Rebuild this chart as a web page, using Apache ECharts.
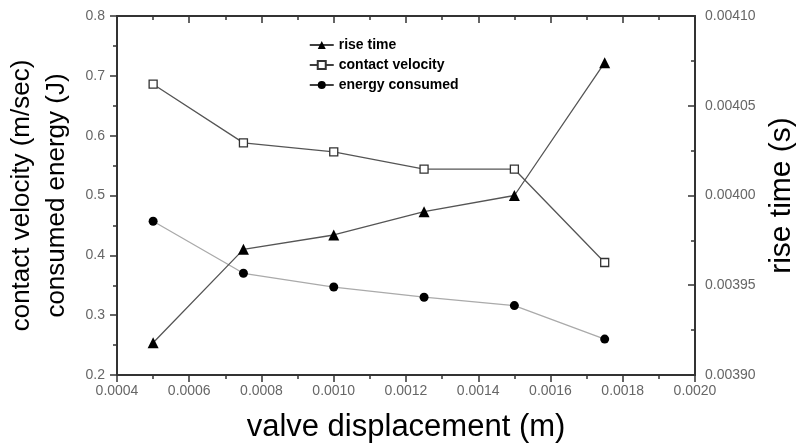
<!DOCTYPE html>
<html>
<head>
<meta charset="utf-8">
<script src="https://cdn.jsdelivr.net/npm/echarts@6/dist/echarts.min.js"></script>
<style>
  html, body { margin: 0; padding: 0; background: #fff; }
  #myChart { width: 797px; height: 443px; }
</style>
</head>
<body>
<div id="myChart"></div>
<script>
// valve displacement (m)
const displacement = [0.0005, 0.00075, 0.0010, 0.00125, 0.0015, 0.00175]
// rise time (s), right axis
const riseTime = [0.003918, 0.003970, 0.003978, 0.003991, 0.004000, 0.004074]
// contact velocity (m/sec), left axis
const contactVelocity = [0.686, 0.588, 0.573, 0.544, 0.544, 0.388]
// energy consumed (J), left axis
const energyConsumed = [0.457, 0.370, 0.347, 0.330, 0.316, 0.260]

const pairs = (xs, ys) => xs.map((x, i) => [x, ys[i]])

const axisColor = '#333'
const labelColor = '#666'
const font = 'Liberation Sans, Arial, sans-serif'

let myChart = echarts.init(document.getElementById('myChart'))
myChart.setOption({
  animation: false,
  grid: { left: 117, right: 102, top: 16, bottom: 68, containLabel: false, outerBoundsMode: 'none' },
  legend: {
    orient: 'vertical',
    left: 304,
    top: 33,
    itemGap: 6,
    itemWidth: 24,
    itemHeight: 10,
    textStyle: { fontFamily: font, fontSize: 14, fontWeight: 'bold', color: '#000' },
    data: [
      { name: 'rise time', lineStyle: { color: '#000', width: 1.5 } },
      { name: 'contact velocity', lineStyle: { color: '#000', width: 1.5 } },
      { name: 'energy consumed', lineStyle: { color: '#000', width: 1.5 } }
    ]
  },
  xAxis: [
    {
      type: 'value',
      min: 0.0004,
      max: 0.0020,
      interval: 0.0002,
      name: 'valve displacement (m)',
      nameLocation: 'middle',
      nameGap: 37,
      nameTextStyle: { fontFamily: font, fontSize: 31, color: '#000' },
      axisLine: { onZero: false, lineStyle: { color: axisColor, width: 2 } },
      axisTick: { length: 7, lineStyle: { color: axisColor, width: 1.5 } },
      minorTick: { show: true, splitNumber: 2, length: 4, lineStyle: { color: axisColor, width: 1.5 } },
      axisLabel: {
        fontFamily: font, fontSize: 14, color: labelColor, margin: 9,
        formatter: v => v.toFixed(4)
      },
      splitLine: { show: false }
    },
    {
      type: 'value',
      position: 'top',
      min: 0.0004,
      max: 0.0020,
      interval: 0.0002,
      axisLine: { onZero: false, lineStyle: { color: axisColor, width: 2 } },
      axisTick: { inside: true, length: 7, lineStyle: { color: axisColor, width: 1.5 } },
      minorTick: { show: true, splitNumber: 2, length: 4, lineStyle: { color: axisColor, width: 1.5 } },
      axisLabel: { show: false },
      splitLine: { show: false }
    }
  ],
  yAxis: [
    {
      type: 'value',
      min: 0.2,
      max: 0.8,
      interval: 0.1,
      name: 'contact velocity (m/sec)\nconsumed energy (J)',
      nameLocation: 'middle',
      nameGap: 31,
      nameTextStyle: { fontFamily: font, fontSize: 26, lineHeight: 35, color: '#000' },
      axisLine: { show: true, onZero: false, lineStyle: { color: axisColor, width: 2 } },
      axisTick: { show: true, length: 7, lineStyle: { color: axisColor, width: 1.5 } },
      minorTick: { show: true, splitNumber: 2, length: 4, lineStyle: { color: axisColor, width: 1.5 } },
      axisLabel: {
        fontFamily: font, fontSize: 14, color: labelColor, margin: 12,
        formatter: v => v.toFixed(1)
      },
      splitLine: { show: false }
    },
    {
      type: 'value',
      position: 'right',
      min: 0.0039,
      max: 0.0041,
      interval: 0.00005,
      name: 'rise time (s)',
      nameLocation: 'middle',
      nameGap: 69,
      nameTextStyle: { fontFamily: font, fontSize: 30, color: '#000' },
      axisLine: { show: true, onZero: false, lineStyle: { color: axisColor, width: 2 } },
      axisTick: { show: true, inside: true, length: 7, lineStyle: { color: axisColor, width: 1.5 } },
      minorTick: { show: true, splitNumber: 2, length: 4, lineStyle: { color: axisColor, width: 1.5 } },
      axisLabel: {
        fontFamily: font, fontSize: 14, color: labelColor, margin: 10,
        formatter: v => v.toFixed(5)
      },
      splitLine: { show: false }
    }
  ],
  series: [
    {
      name: 'rise time',
      type: 'line',
      yAxisIndex: 1,
      data: pairs(displacement, riseTime),
      symbol: 'triangle',
      symbolSize: 11,
      itemStyle: { color: '#000' },
      lineStyle: { color: '#555', width: 1.3 },
      z: 3
    },
    {
      name: 'contact velocity',
      type: 'line',
      data: pairs(displacement, contactVelocity),
      symbol: 'rect',
      symbolSize: 8,
      itemStyle: { color: '#fff', borderColor: '#333', borderWidth: 1.3 },
      lineStyle: { color: '#555', width: 1.3 },
      z: 4
    },
    {
      name: 'energy consumed',
      type: 'line',
      data: pairs(displacement, energyConsumed),
      symbol: 'circle',
      symbolSize: 9,
      itemStyle: { color: '#000' },
      lineStyle: { color: '#aaa', width: 1.3 },
      z: 2
    }
  ]
})
</script>
</body>
</html>
